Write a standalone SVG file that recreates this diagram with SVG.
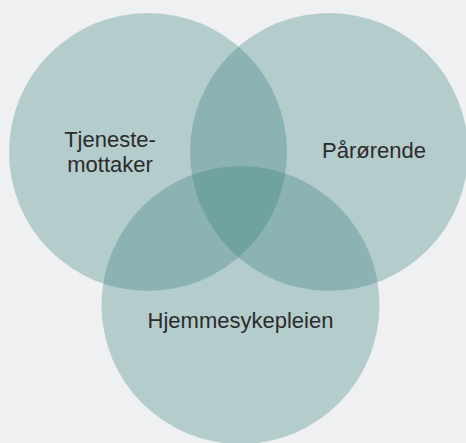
<svg xmlns="http://www.w3.org/2000/svg" width="466" height="443" viewBox="0 0 466 443">
<style>
.c{fill:#2e7b78;fill-opacity:0.3}
.t{font-family:"Liberation Sans",Arial,sans-serif;font-size:22px;fill:#2b2b2b;text-anchor:middle}
</style>
<rect width="466" height="443" fill="#eff0f2"/>
<g id="tjenestemottaker">
<circle class="c" cx="148" cy="152" r="139"/>
</g>
<g id="parorende">
<circle class="c" cx="329" cy="152" r="139"/>
</g>
<g id="hjemmesykepleien">
<circle class="c" cx="240.5" cy="305" r="139"/>
</g>
<g id="labels">
<text class="t" x="110" y="147">Tjeneste-</text>
<text class="t" x="110" y="172">mottaker</text>
<text class="t" x="374" y="158">Pårørende</text>
<text class="t" x="240.5" y="328">Hjemmesykepleien</text>
</g>
<g id="connectors"></g>
</svg>
